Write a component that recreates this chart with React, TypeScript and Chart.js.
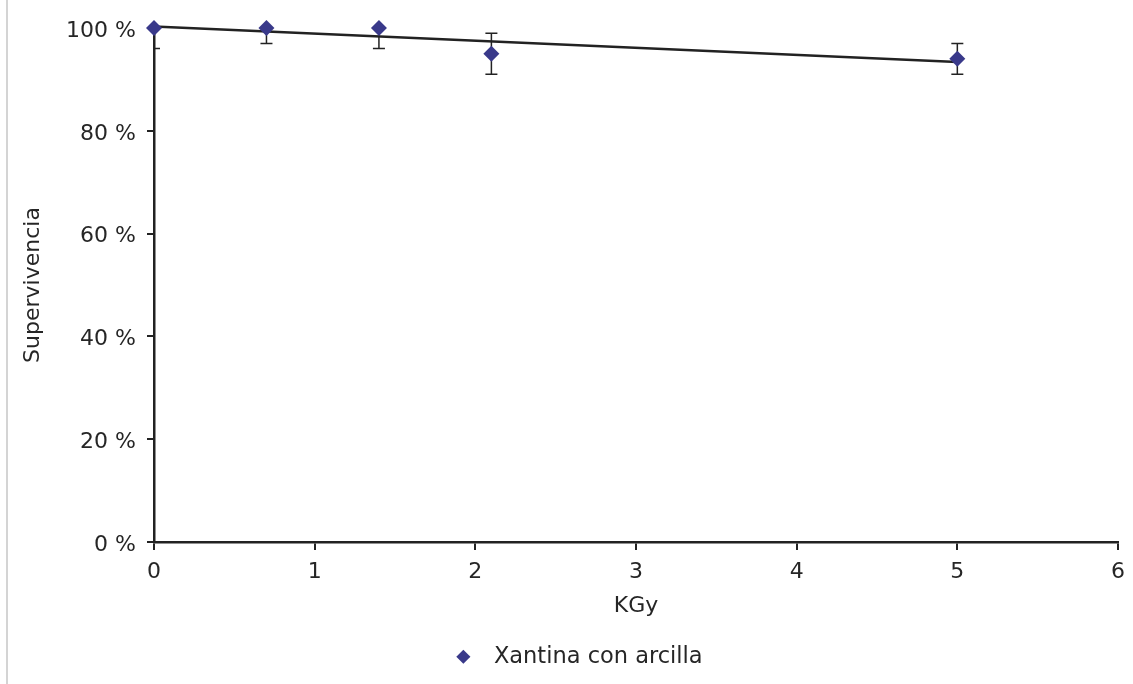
import React, { useEffect, useRef } from "react";
import { Chart, registerables } from "chart.js";

Chart.register(...registerables);

const doses = [0, 0.7, 1.4, 2.1, 5];
const survival = [100, 100, 100, 95, 94];
const errLow = [96, 97, 96, 91, 91];
const errHigh = [100, 100, 100, 99, 97];
const trendX = [0, 5];
const trendY = [100.3, 93.4];
const yTicks = [0, 20, 40, 60, 80, 100];
const seriesLabel = "Xantina con arcilla";
const xTitle = "KGy";
const yTitle = "Supervivencia";

const FONT = "'DejaVu Sans', sans-serif";
const TEXT = "#262626";

const errorBarPlugin = {
  id: "errorBars",
  beforeDatasetsDraw(chart: any) {
    const { ctx, chartArea, scales } = chart;
    const xs = scales.x;
    const ys = scales.y;
    ctx.save();
    ctx.beginPath();
    ctx.rect(chartArea.left, chartArea.top - 20, chartArea.right - chartArea.left, chartArea.bottom - chartArea.top + 20);
    ctx.clip();
    ctx.strokeStyle = "#222222";
    ctx.lineWidth = 1.5;
    const cap = 6;
    doses.forEach((d, i) => {
      const px = xs.getPixelForValue(d);
      const lo = ys.getPixelForValue(errLow[i]);
      const hi = ys.getPixelForValue(errHigh[i]);
      ctx.beginPath();
      ctx.moveTo(px, lo);
      ctx.lineTo(px, hi);
      ctx.moveTo(px - cap, lo);
      ctx.lineTo(px + cap, lo);
      if (errHigh[i] !== survival[i]) {
        ctx.moveTo(px - cap, hi);
        ctx.lineTo(px + cap, hi);
      }
      ctx.stroke();
    });
    ctx.restore();
  },
};

export default function App() {
  const ref = useRef<HTMLCanvasElement | null>(null);
  useEffect(() => {
    if (!ref.current) return;
    const chart = new Chart(ref.current, {
      type: "scatter",
      data: {
        datasets: [
          {
            label: seriesLabel,
            data: doses.map((d, i) => ({ x: d, y: survival[i] })),
            pointStyle: "rectRot",
            pointRadius: 8,
            backgroundColor: "#39398a",
            borderColor: "#39398a",
            borderWidth: 0,
            showLine: false,
            clip: false,
          },
          {
            label: "trend",
            data: trendX.map((d, i) => ({ x: d, y: trendY[i] })),
            showLine: true,
            pointRadius: 0,
            borderColor: "#222222",
            borderWidth: 2.5,
            backgroundColor: "#222222",
            clip: false,
          },
        ],
      },
      options: {
        responsive: false,
        animation: false,
        devicePixelRatio: 1,
        layout: { padding: { top: 28, right: 15, left: 43, bottom: 6 } },
        plugins: {
          tooltip: { enabled: false },
          legend: {
            position: "bottom",
            labels: {
              generateLabels: (c: any) =>
                (Chart.defaults.plugins.legend.labels.generateLabels as any)(c)
                  .filter((it: any) => it.datasetIndex === 0)
                  .map((it: any) => ({ ...it, text: "  " + it.text })),
              usePointStyle: true,
              boxWidth: 10,
              boxHeight: 10,
              padding: 10,
              color: TEXT,
              font: { family: FONT, size: 22.5 },
            },
          },
        },
        scales: {
          x: {
            type: "linear",
            min: 0,
            max: 6,
            ticks: { stepSize: 1, color: TEXT, font: { family: FONT, size: 22 }, padding: 9 },
            grid: { drawOnChartArea: false, drawTicks: true, tickLength: 8, color: "#222222", lineWidth: 2 },
            border: { display: true, color: "#222222", width: 2.5 },
            title: { display: true, text: xTitle, color: TEXT, font: { family: FONT, size: 22 }, padding: { top: 0, bottom: 16 } },
            afterFit: (s: any) => {
              s.height = 93.5;
              s.paddingLeft = 0;
              s.paddingRight = 0;
            },
          },
          y: {
            type: "linear",
            min: 0,
            max: 100,
            afterBuildTicks: (s: any) => {
              s.ticks = yTicks.map((v) => ({ value: v }));
            },
            ticks: {
              color: TEXT,
              font: { family: FONT, size: 22 },
              padding: 11,
              labelOffset: 3,
              callback: (v: any) => v + " %",
            },
            grid: { drawOnChartArea: false, drawTicks: true, tickLength: 7, color: "#222222", lineWidth: 2 },
            border: { display: true, color: "#222222", width: 2.5 },
            title: { display: true, text: yTitle, color: TEXT, font: { family: FONT, size: 22 }, padding: { top: -23, bottom: 0 } },
            afterFit: (s: any) => {
              s.width = 111;
              s.paddingTop = 0;
              s.paddingBottom = 0;
            },
          },
        },
      },
      plugins: [errorBarPlugin],
    } as any);
    return () => chart.destroy();
  }, []);
  return (
    <div style={{ position: "fixed", left: 0, top: 0, width: 1133, height: 684, background: "#fff" }}>
      <div style={{ position: "absolute", left: 6, top: 0, width: 2, height: 684, background: "#d4d4d4" }} />
      <canvas ref={ref} width={1133} height={684} style={{ position: "absolute", left: 0, top: 0 }} />
    </div>
  );
}
